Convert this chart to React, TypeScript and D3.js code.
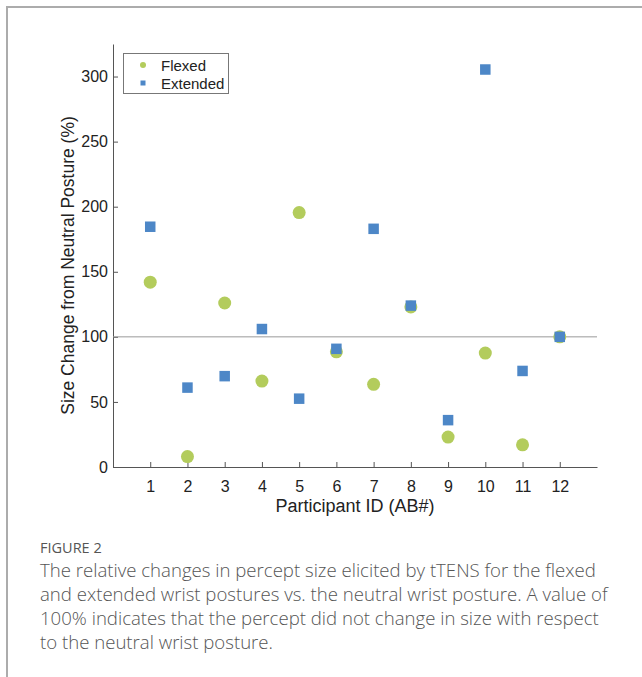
import React, { useRef, useEffect } from "react";
import * as d3 from "d3";

const participants = [1, 2, 3, 4, 5, 6, 7, 8, 9, 10, 11, 12];
const flexed = [142, 8, 126, 66, 195.5, 88.5, 63.5, 123, 23, 87.5, 17, 100];
const extended = [184.6, 61, 69.8, 106, 52.5, 90.8, 183, 124, 36, 305.4, 73.8, 100];
const yTicks = [0, 50, 100, 150, 200, 250, 300];
const seriesNames = ["Flexed", "Extended"];
const captionLines = [
  "The relative changes in percept size elicited by tTENS for the flexed",
  "and extended wrist postures vs. the neutral wrist posture. A value of",
  "100% indicates that the percept did not change in size with respect",
  "to the neutral wrist posture.",
];

const GREEN = "#b3cc5c";
const BLUE = "#4d87c7";

export default function App() {
  const ref = useRef<SVGSVGElement>(null);
  useEffect(() => {
    const svg = d3.select(ref.current);
    svg.selectAll("*").remove();
    const W = 642, H = 677;
    const left = 113, right = 597, top = 44, bottom = 467;
    const x = d3.scaleLinear().domain([0, 13]).range([left, right]);
    const y = d3.scaleLinear().domain([0, 325]).range([bottom, top]);
    const font = "Liberation Sans, Arial, Helvetica, sans-serif";

    // frame
    svg.append("path").attr("d", `M7,${H} V7 H${W}`).attr("fill", "none").attr("stroke", "#acacac").attr("stroke-width", 2);

    // axes
    const gx = svg.append("g").attr("transform", `translate(0,${bottom})`);
    gx.call(d3.axisBottom(x).tickValues(participants).tickSizeInner(-5).tickSizeOuter(0).tickPadding(14) as any);
    gx.select(".domain").attr("stroke", "#555");
    gx.selectAll(".tick line").attr("stroke", "#555");
    gx.selectAll("text").attr("font-family", font).attr("font-size", 16).attr("fill", "#222");

    const gy = svg.append("g").attr("transform", `translate(${left},0)`);
    gy.call(d3.axisLeft(y).tickValues(yTicks).tickSizeInner(-5).tickSizeOuter(0).tickPadding(5) as any);
    gy.select(".domain").attr("stroke", "#555");
    gy.selectAll(".tick line").attr("stroke", "#555");
    gy.selectAll("text").attr("font-family", font).attr("font-size", 16).attr("fill", "#222");

    // reference line
    svg.append("line").attr("x1", left).attr("x2", right).attr("y1", y(100)).attr("y2", y(100)).attr("stroke", "#999").attr("stroke-width", 1);

    // labels
    svg.append("text").attr("x", (left + right) / 2).attr("y", 512).attr("text-anchor", "middle")
      .attr("font-family", font).attr("font-size", 18).attr("fill", "#222").text("Participant ID (AB#)");
    svg.append("text").attr("transform", `translate(74,${(top + bottom) / 2 + 10}) rotate(-90)`).attr("text-anchor", "middle")
      .attr("font-family", font).attr("font-size", 17.5).attr("fill", "#222").text("Size Change from Neutral Posture (%)");

    // points
    svg.append("g").selectAll("circle").data(participants).enter().append("circle")
      .attr("cx", (d) => x(d)).attr("cy", (d, i) => y(flexed[i])).attr("r", 6.5).attr("fill", GREEN);
    const s = 10.5;
    svg.append("g").selectAll("rect").data(participants).enter().append("rect")
      .attr("x", (d) => x(d) - s / 2).attr("y", (d, i) => y(extended[i]) - s / 2).attr("width", s).attr("height", s).attr("fill", BLUE);

    // legend
    const lg = svg.append("g");
    lg.append("rect").attr("x", 123.5).attr("y", 53.5).attr("width", 105).attr("height", 40).attr("fill", "#fff").attr("stroke", "#777").attr("stroke-width", 1);
    lg.append("circle").attr("cx", 143).attr("cy", 65).attr("r", 3).attr("fill", GREEN);
    lg.append("rect").attr("x", 140.5).attr("y", 80.5).attr("width", 5).attr("height", 5).attr("fill", BLUE);
    seriesNames.forEach((n, i) => {
      lg.append("text").attr("x", 161).attr("y", 70.5 + i * 18.5).attr("font-family", font).attr("font-size", 15).attr("fill", "#222").text(n);
    });

    // caption
    svg.append("text").attr("x", 40).attr("y", 553).attr("font-family", "Open Sans, sans-serif").attr("font-size", 14.5)
      .attr("font-weight", 500).attr("fill", "#555").text("FIGURE 2");
    captionLines.forEach((l, i) => {
      svg.append("text").attr("x", 40).attr("y", 577 + i * 24).attr("font-family", "Open Sans, sans-serif")
        .attr("font-size", 18.6).attr("font-weight", 300).attr("fill", "#555").text(l);
    });
  }, []);
  return (
    <svg ref={ref} width={642} height={677} style={{ position: "absolute", left: 0, top: 0, background: "#fff" }} />
  );
}
